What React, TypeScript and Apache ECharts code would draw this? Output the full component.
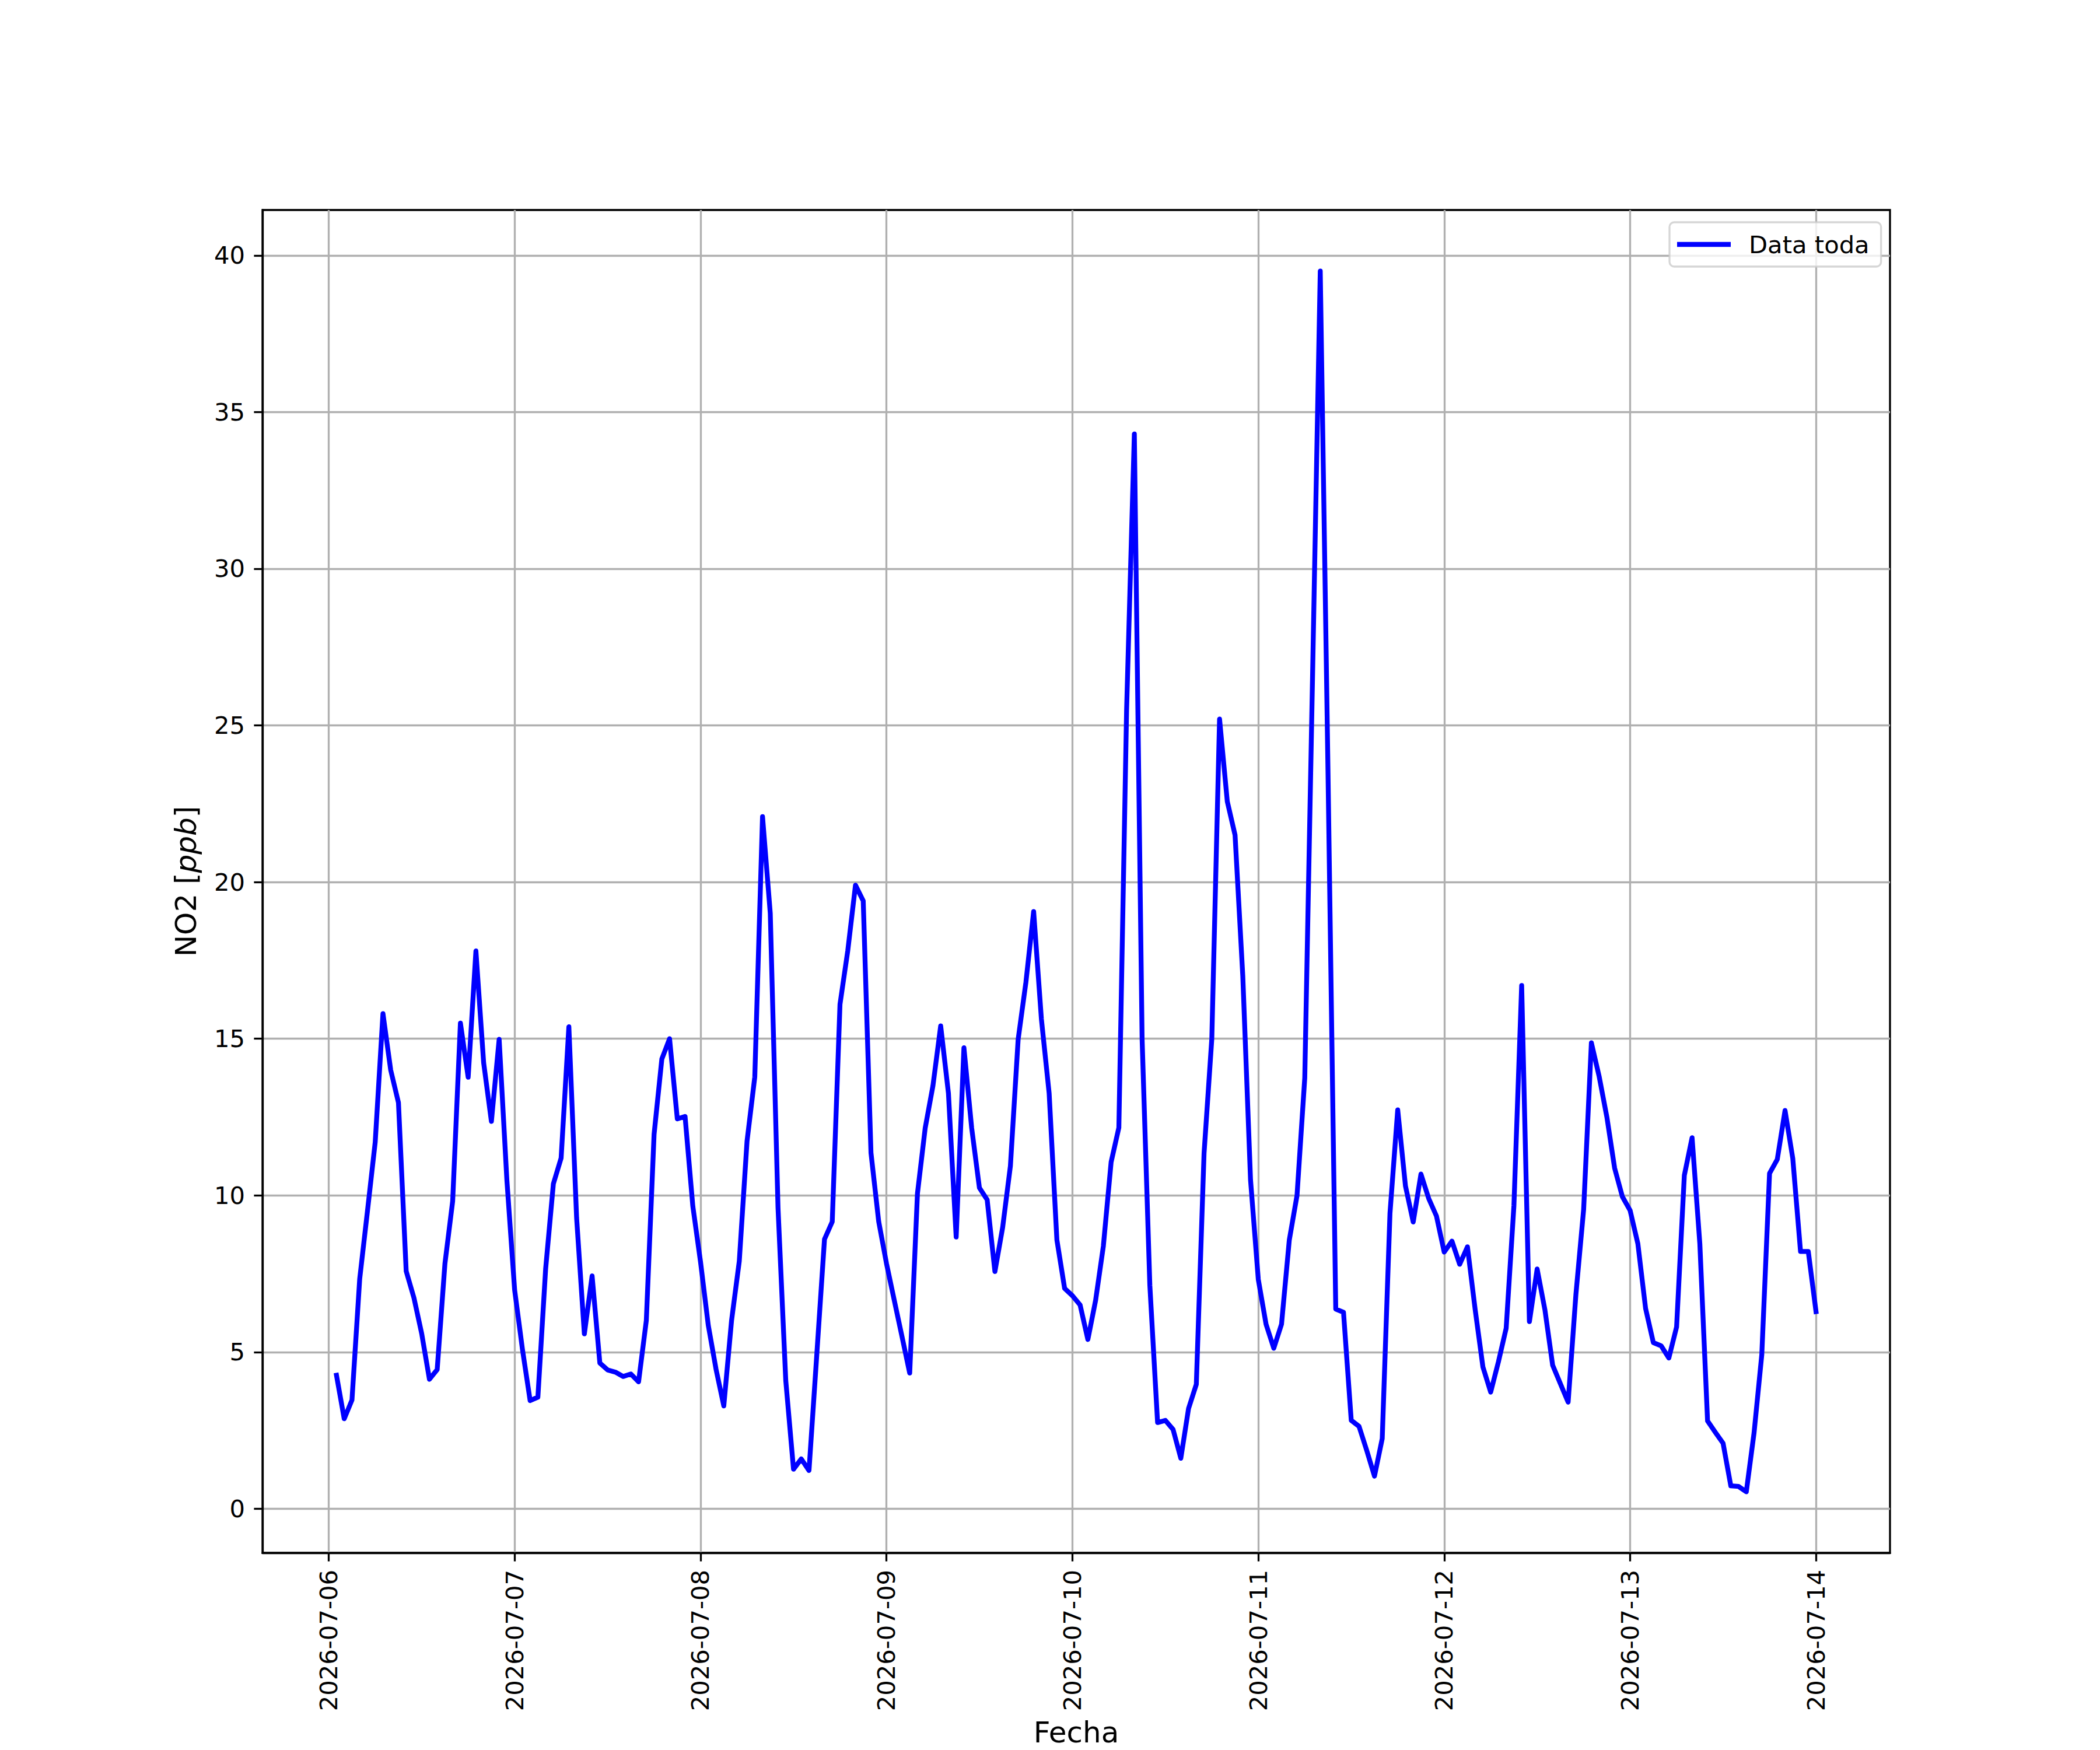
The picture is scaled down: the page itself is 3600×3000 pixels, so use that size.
import React, { useEffect, useRef } from 'react';
import * as echarts from 'echarts';

// Hourly NO2 readings [ppb], 01:00 to 24:00 of each day
const day0706 = [4.26, 2.87, 3.47, 7.34, 9.5, 11.7, 15.8, 14.0, 12.96, 7.58, 6.73, 5.59, 4.13, 4.44, 7.82, 9.82, 15.5, 13.77, 17.8, 14.23, 12.36, 14.98, 10.48, 6.98];
const day0707 = [5.1, 3.45, 3.56, 7.65, 10.37, 11.19, 15.38, 9.28, 5.58, 7.43, 4.65, 4.43, 4.36, 4.22, 4.3, 4.05, 6.01, 11.95, 14.35, 15.0, 12.44, 12.52, 9.66, 7.87];
const day0708 = [5.85, 4.45, 3.28, 6.0, 7.9, 11.73, 13.78, 22.09, 19.0, 9.6, 4.09, 1.26, 1.59, 1.22, 4.9, 8.6, 9.16, 16.1, 17.8, 19.9, 19.4, 11.36, 9.16, 7.83];
const day0709 = [6.66, 5.5, 4.33, 10.06, 12.15, 13.5, 15.41, 13.26, 8.67, 14.71, 12.15, 10.24, 9.86, 7.57, 8.98, 10.94, 14.98, 16.8, 19.06, 15.63, 13.26, 8.58, 7.03, 6.8];
const day0710 = [6.5, 5.4, 6.65, 8.38, 11.06, 12.16, 25.5, 34.3, 15.0, 7.13, 2.75, 2.82, 2.53, 1.61, 3.2, 3.97, 11.35, 15.0, 25.2, 22.57, 21.5, 17.0, 10.49, 7.32];
const day0711 = [5.89, 5.12, 5.89, 8.57, 10.0, 13.75, 26.5, 39.5, 23.5, 6.37, 6.27, 2.82, 2.63, 1.86, 1.04, 2.24, 9.43, 12.73, 10.3, 9.15, 10.68, 9.9, 9.34, 8.19];
const day0712 = [8.54, 7.8, 8.36, 6.35, 4.52, 3.72, 4.69, 5.76, 9.67, 16.7, 5.97, 7.65, 6.35, 4.58, 3.99, 3.4, 6.83, 9.55, 14.87, 13.8, 12.5, 10.87, 9.96, 9.52];
const day0713 = [8.46, 6.39, 5.3, 5.2, 4.81, 5.8, 10.64, 11.84, 8.46, 2.8, 2.44, 2.09, 0.73, 0.71, 0.54, 2.42, 4.92, 10.7, 11.15, 12.71, 11.18, 8.21, 8.21, 6.29];

const dayLabels = ['2026-07-06', '2026-07-07', '2026-07-08', '2026-07-09', '2026-07-10', '2026-07-11', '2026-07-12', '2026-07-13', '2026-07-14'];
const yTicks = [0, 5, 10, 15, 20, 25, 30, 35, 40];

const FONT = 'DejaVu Sans';
const FS = 41.7;
const NAME_FS = 50;
const LW = 3.3;

const App: React.FC = () => {
  const chartRef = useRef<HTMLDivElement>(null);

  useEffect(() => {
    if (!chartRef.current) return;
    document.body.style.margin = '0';
    const chart = echarts.init(chartRef.current, null, { renderer: 'svg' });

    // x = hours since 2026-07-06 00:00
    const allDays = [day0706, day0707, day0708, day0709, day0710, day0711, day0712, day0713];
    const points: number[][] = [];
    allDays.forEach((d, i) => d.forEach((v, h) => points.push([i * 24 + h + 1, v])));

    const xs = points.map(p => p[0]);
    const ys = points.map(p => p[1]);
    const xMin = Math.min(...xs), xMax = Math.max(...xs);
    const yMin = Math.min(...ys), yMax = Math.max(...ys);
    const xm = (xMax - xMin) * 0.05, ym = (yMax - yMin) * 0.05;
    const xTicks = dayLabels.map((_, i) => i * 24);

    const option: echarts.EChartsOption = {
      animation: false,
      backgroundColor: '#fff',
      textStyle: { fontFamily: FONT },
      grid: {
        left: 450, top: 360, width: 2790, height: 2310,
        show: true, borderColor: '#000', borderWidth: LW, containLabel: false
      },
      legend: {
        left: 2862, top: 381,
        padding: [13, 20, 13, 13],
        icon: 'rect', itemWidth: 92, itemHeight: 8.3,
        backgroundColor: 'rgba(255,255,255,0.8)',
        borderColor: 'rgba(204,204,204,0.8)', borderWidth: LW, borderRadius: 8,
        textStyle: { fontFamily: FONT, fontSize: FS, color: '#000', padding: [0, 0, 0, 26], lineHeight: 50 },
        data: ['Data toda']
      },
      xAxis: {
        type: 'value',
        min: xMin - xm, max: xMax + xm,
        name: 'Fecha', nameLocation: 'middle', nameGap: 283,
        nameTextStyle: { fontFamily: FONT, fontSize: NAME_FS, color: '#000' },
        axisLine: { show: true, onZero: false, lineStyle: { color: '#000', width: LW } },
        axisTick: { show: true, length: 14.6, customValues: xTicks, lineStyle: { color: '#000', width: LW } },
        axisLabel: {
          customValues: xTicks, rotate: 90, margin: 29,
          fontFamily: FONT, fontSize: FS, color: '#000',
          formatter: (v: number) => dayLabels[Math.round(v / 24)] ?? ''
        },
        splitLine: { show: true, lineStyle: { color: '#b0b0b0', width: LW } }
      },
      yAxis: {
        type: 'value',
        min: yMin - ym, max: yMax + ym,
        name: '{n|NO2 [}{i|ppb}{n|]}', nameLocation: 'middle', nameGap: 106, nameRotate: 90,
        nameTextStyle: {
          fontFamily: FONT, fontSize: NAME_FS, color: '#000',
          rich: {
            n: { fontFamily: FONT, fontSize: NAME_FS, color: '#000' },
            i: { fontFamily: FONT, fontSize: NAME_FS, color: '#000', fontStyle: 'italic' }
          }
        },
        axisLine: { show: true, onZero: false, lineStyle: { color: '#000', width: LW } },
        axisTick: { show: true, length: 14.6, customValues: yTicks, lineStyle: { color: '#000', width: LW } },
        axisLabel: { customValues: yTicks, margin: 30, fontFamily: FONT, fontSize: FS, color: '#000' },
        splitLine: { show: true, lineStyle: { color: '#b0b0b0', width: LW } }
      },
      series: [
        {
          name: 'Data toda',
          type: 'line',
          data: points,
          showSymbol: false,
          symbol: 'none',
          color: '#0000ff',
          lineStyle: { color: '#0000ff', width: 8.3, cap: 'square', join: 'round' }
        }
      ]
    };

    chart.setOption(option);
    return () => {
      chart.dispose();
    };
  }, []);

  return <div ref={chartRef} style={{ width: '3600px', height: '3000px', backgroundColor: '#fff' }} />;
};

export default App;
